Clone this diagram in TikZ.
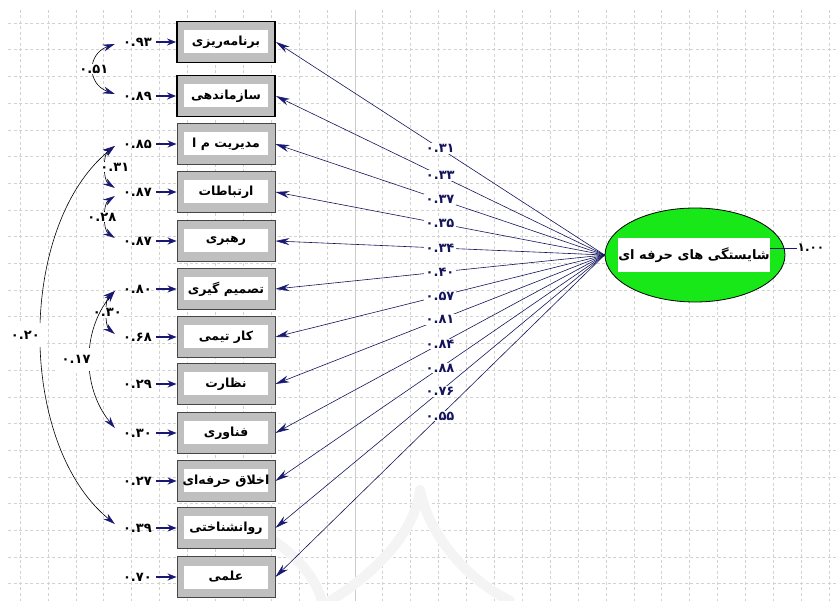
\documentclass[tikz,border=0pt]{standalone}
\usepackage{fontspec}
\usetikzlibrary{arrows.meta,shapes.geometric}
\newfontfamily\farsi[Script=Arabic]{DejaVu Sans}
\TeXXeTstate=1
\definecolor{lnavy}{RGB}{25,25,115}
\definecolor{lgreen}{RGB}{24,232,24}
\newcommand{\fatext}[1]{\farsi\bfseries\beginR #1\endR}
\newcommand{\coef}[1]{{\farsi\bfseries #1}}

\tikzset{
  gridline/.style={gray!35, line width=0.5pt, dash pattern=on 3pt off 2.5pt},
  wmark/.style={gray!9, line width=10pt, line cap=round},
  obs/.style={draw=gray!55!black, line width=0.8pt, fill=gray!50, minimum width=98pt,
    minimum height=41pt, inner sep=0pt, font=\fontsize{12.5}{14}\selectfont,
    path picture={\fill[white] ([shift={(7pt,-9pt)}]path picture bounding box.north west)
      rectangle ([shift={(-7pt,9pt)}]path picture bounding box.south east);}},
  obssel/.style={obs, draw=black, line width=1.8pt},
  latent/.style={ellipse, draw=black, line width=0.8pt, fill=lgreen, minimum width=180pt,
    minimum height=94pt, inner sep=0pt},
  errv/.style={anchor=east, inner sep=1pt, font=\fontsize{13}{15}\selectfont},
  coefl/.style={fill=white, inner sep=1.2pt, font=\fontsize{13}{15}\selectfont},
  errarr/.style={lnavy, line width=1.8pt, shorten <=3pt, -{Stealth[length=9pt,width=7pt]}},
  load/.style={lnavy!80!black, line width=0.6pt, -{Stealth[length=14pt,width=7pt,color=lnavy]}},
  cov/.style={black, line width=0.6pt,
    {Stealth[length=12pt,width=7pt,color=lnavy]}-{Stealth[length=12pt,width=7pt,color=lnavy]}},
}

\begin{document}
\begin{tikzpicture}[x=1pt,y=-1pt]
  \useasboundingbox (0,0) rectangle (836,601);
  % background grid
  \foreach \i in {0,...,29} \draw[gridline] ({20+27.9*\i},10) -- ({20+27.9*\i},601);
  \foreach \j in {0,...,21} \draw[gridline] (8,{23+26.7*\j}) -- (836,{23+26.7*\j});
  \draw[gray!40, line width=0.6pt] (354.8,10) -- (354.8,601);
  % watermark
  \draw[wmark] (330,601) .. controls (380,570) and (415,530) .. (420,490);
  \draw[wmark] (420,490) .. controls (428,530) and (460,575) .. (510,601);
  \draw[wmark] (245,525) .. controls (290,545) and (315,575) .. (322,601);

  % indicators
  \node[obssel] (v1) at (226,42) {\fatext{برنامه‌ریزی}};
  \node[obssel] (v2) at (226,96) {\fatext{سازماندهی}};
  \node[obs] (v3) at (226,144) {\fatext{مدیریت م ا}};
  \node[obs] (v4) at (226,192) {\fatext{ارتباطات}};
  \node[obs] (v5) at (226,241) {\fatext{رهبری}};
  \node[obs] (v6) at (226,289) {\fatext{تصمیم گیری}};
  \node[obs] (v7) at (226,337) {\fatext{کار تیمی}};
  \node[obs] (v8) at (226,384) {\fatext{نظارت}};
  \node[obs] (v9) at (226,433) {\fatext{فناوری}};
  \node[obs] (v10) at (226,481) {\fatext{اخلاق حرفه‌ای}};
  \node[obs] (v11) at (226,528) {\fatext{روانشناختی}};
  \node[obs] (v12) at (226,577) {\fatext{علمی}};

  % error variances
  \foreach \k/\y/\c in {1/42/۰.۹۳, 2/96/۰.۸۹, 3/144/۰.۸۵, 4/192/۰.۸۷, 5/241/۰.۸۷, 6/289/۰.۸۰,
      7/337/۰.۶۸, 8/384/۰.۲۹, 9/433/۰.۳۰, 10/481/۰.۲۷, 11/528/۰.۳۹, 12/577/۰.۷۰}
    \node[errv] (e\k) at (153,\y) {\coef{\c}};
  \foreach \k in {1,...,12} \draw[errarr] (e\k) -- (v\k);

  % latent factor
  \node[latent] (F) at (695,255) {};
  \node[fill=white, inner sep=0pt, minimum width=152pt, minimum height=34pt,
    font=\fontsize{13}{15}\selectfont] (Ft) at (694,255) {\fatext{شایستگی های حرفه ای}};
  \node[inner sep=1pt, font=\fontsize{12}{14}\selectfont] (Fv) at (811,248) {\coef{۱.۰۰}};
  \draw[lnavy, line width=0.5pt] (Ft.east |- Fv) -- (Fv.west);

  % loadings
  \foreach \k/\c in {1/۰.۳۱, 2/۰.۳۳, 3/۰.۳۷, 4/۰.۳۵, 5/۰.۳۴, 6/۰.۴۰,
      7/۰.۵۷, 8/۰.۸۱, 9/۰.۸۴, 10/۰.۸۸, 11/۰.۷۶, 12/۰.۵۵}
    \draw[load] (F.west) -- node[coefl] {\coef{\c}} (v\k.east);

  % error covariances
  \draw[cov] ([xshift=-7pt,yshift=-2pt]e1.west) .. controls +(-28,10) and +(-28,-10)
    .. ([xshift=-7pt,yshift=2pt]e2.west) node[coefl, pos=0.5] {\coef{۰.۵۱}};
  \draw[cov] ([xshift=-7pt,yshift=-2pt]e3.west) .. controls +(-12,8) and +(-12,-8)
    .. ([xshift=-7pt,yshift=4pt]e4.west) node[coefl, pos=0.5, xshift=9pt] {\coef{۰.۳۱}};
  \draw[cov] ([xshift=-7pt,yshift=-4pt]e4.west) .. controls +(-12,8) and +(-12,-8)
    .. ([xshift=-7pt,yshift=3pt]e5.west) node[coefl, pos=0.5, xshift=-4pt] {\coef{۰.۲۸}};
  \draw[cov] ([xshift=-7pt,yshift=-2pt]e6.west) .. controls +(-10,8) and +(-10,-8)
    .. ([xshift=-7pt,yshift=3pt]e7.west) node[coefl, pos=0.5] {\coef{۰.۳۰}};
  \draw[cov] ([xshift=-7pt,yshift=-2pt]e6.west) .. controls +(-33,40) and +(-33,-40)
    .. ([xshift=-7pt,yshift=5pt]e9.west)
    node[coefl, pos=0.5, xshift=-14pt, inner xsep=6pt, inner ysep=7pt] {\coef{۰.۱۷}};
  \draw[cov] ([xshift=-7pt,yshift=-2pt]e3.west) .. controls +(-98,80) and +(-98,-80)
    .. ([xshift=-7pt,yshift=4pt]e11.west)
    node[coefl, pos=0.5, xshift=-16pt, inner xsep=7pt, inner ysep=8pt] {\coef{۰.۲۰}};
\end{tikzpicture}
\end{document}
